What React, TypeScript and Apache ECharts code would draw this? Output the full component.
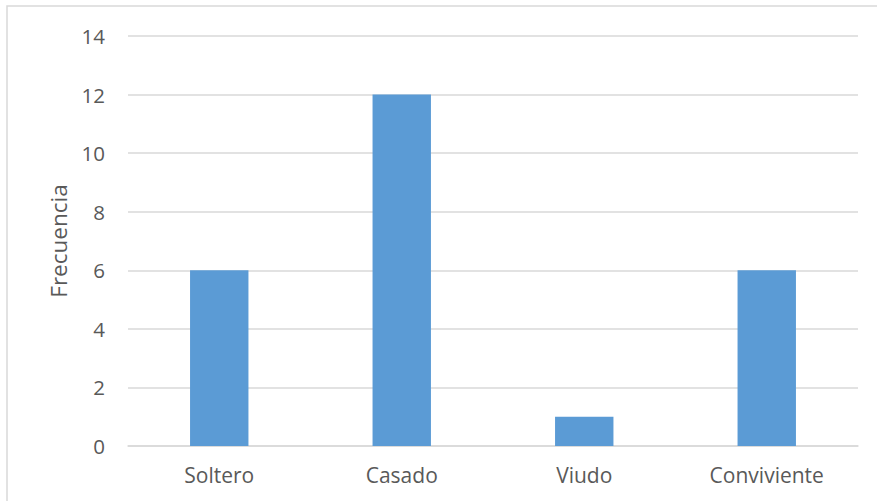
import React, { useEffect, useRef } from "react";
import * as echarts from "echarts";

const categories = ["Soltero", "Casado", "Viudo", "Conviviente"];
const values = [6, 12, 1, 6];
const yTicks = [0, 2, 4, 6, 8, 10, 12, 14];

export default function App() {
  const ref = useRef<HTMLDivElement>(null);
  useEffect(() => {
    const chart = echarts.init(ref.current!, null, { renderer: "svg" });
    chart.setOption({
      animation: false,
      backgroundColor: "#ffffff",
      textStyle: { fontFamily: "Open Sans" },
      graphic: [
        {
          type: "rect",
          shape: { x: 7, y: 6, width: 900, height: 600 },
          style: { fill: "none", stroke: "#d9d9d9", lineWidth: 1.5 },
          silent: true,
        },
      ],
      grid: { left: 128, right: 19, top: 36, bottom: 55, containLabel: false },
      xAxis: {
        type: "category",
        data: categories,
        axisLine: { show: true, lineStyle: { color: "#d9d9d9", width: 1.5 } },
        axisTick: { show: false },
        axisLabel: { color: "#595959", fontSize: 21, margin: 18, fontFamily: "Open Sans" },
      },
      yAxis: {
        type: "value",
        min: yTicks[0],
        max: yTicks[yTicks.length - 1],
        interval: 2,
        name: "Frecuencia",
        nameLocation: "middle",
        nameGap: 58,
        nameRotate: 90,
        nameTextStyle: { color: "#595959", fontSize: 22.5, fontFamily: "Open Sans" },
        axisLine: { show: false },
        axisTick: { show: false },
        axisLabel: { color: "#595959", fontSize: 20.5, margin: 23, fontFamily: "Open Sans" },
        splitLine: { lineStyle: { color: "#d9d9d9", width: 1.5 } },
      },
      series: [
        {
          type: "bar",
          data: values,
          barWidth: "32%",
          itemStyle: { color: "#5b9bd5" },
        },
      ],
    });
    return () => chart.dispose();
  }, []);
  return (
    <div
      ref={ref}
      style={{ position: "fixed", left: 0, top: 0, width: 877, height: 501 }}
    />
  );
}
